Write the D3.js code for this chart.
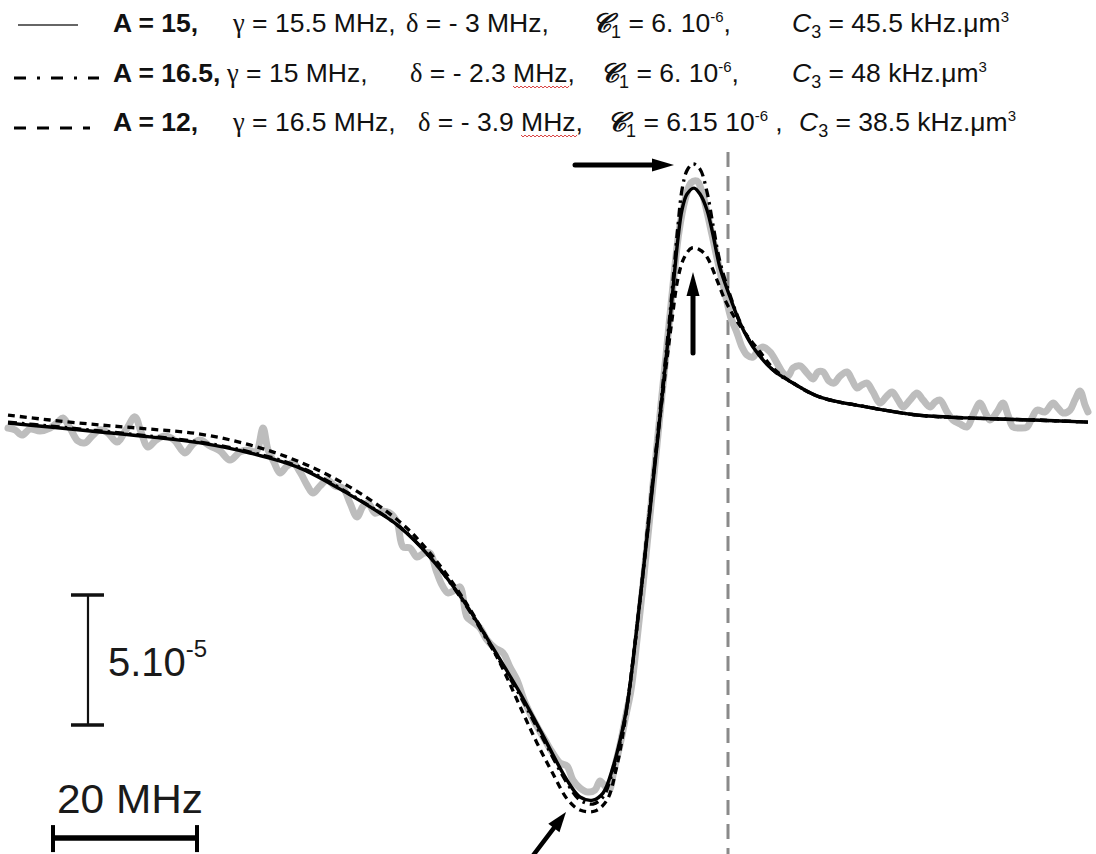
<!DOCTYPE html>
<html>
<head>
<meta charset="utf-8">
<script src="https://cdn.jsdelivr.net/npm/d3@7"></script>
<style>
  html, body { margin: 0; padding: 0; background: #fff; }
  svg { display: block; }
</style>
</head>
<body>
<svg id="chart" width="1096" height="854"></svg>
<script>
// ---------- measured absorption signal (detuning in MHz, signal in units of 1e-5) ----------
const measFreq = [
  -100.00, -99.03, -98.06, -96.94, -95.56, -94.17, -93.06, -92.36, -91.39, -90.28,
  -89.31, -88.33, -87.22, -86.11, -84.86, -83.61, -82.36, -81.53, -80.56, -79.44,
  -78.19, -76.94, -75.42, -74.31, -73.33, -71.94, -70.56, -69.17, -67.78, -66.67,
  -65.56, -64.58, -63.89, -63.06, -62.22, -61.25, -60.42, -59.44, -58.47, -57.64,
  -56.67, -55.69, -54.58, -53.47, -52.50, -51.53, -50.69, -50.00, -49.03, -48.06,
  -46.94, -45.97, -45.14, -44.17, -43.19, -42.22, -41.39, -40.56, -39.72, -38.89,
  -37.92, -37.22, -36.25, -35.42, -34.44, -33.47, -32.36, -31.25, -30.28, -29.31,
  -28.33, -27.36, -26.39, -25.42, -24.44, -23.33, -22.36, -21.53, -20.56, -19.44,
  -18.47, -17.78, -17.22, -16.53, -15.83, -15.00, -14.17, -13.47, -12.64, -11.81,
  -10.97, -10.14, -9.31, -8.47, -7.64, -6.81, -5.97, -5.14, -4.31, -3.61,
  -2.92, -2.22, -1.53, -0.83, -0.14, 0.42, 1.25, 1.94, 2.64, 3.47,
  4.17, 4.86, 5.83, 6.81, 7.64, 8.33, 9.03, 10.00, 10.97, 11.81,
  12.50, 13.19, 14.03, 14.72, 15.56, 16.53, 17.22, 17.92, 18.61, 19.31,
  20.14, 21.11, 21.94, 22.78, 23.61, 24.31, 25.28, 26.25, 27.08, 28.06,
  28.75, 29.44, 30.42, 31.25, 32.22, 33.19, 34.03, 35.00, 35.69, 36.39,
  37.36, 38.19, 38.89, 39.58, 40.56, 41.53, 42.22, 42.92, 44.03, 45.14,
  45.83, 46.53, 47.50, 48.19, 48.89, 49.58, 50.00
];
const measSignal = [
  -0.31, -0.38, -0.58, -0.35, -0.42, -0.31, -0.08, 0.08, -0.31, -0.81,
  -0.88, -0.62, -0.38, -0.50, -0.85, -0.38, 0.12, -0.46, -1.04, -0.77,
  -0.62, -0.77, -1.27, -0.92, -0.77, -1.00, -1.19, -1.54, -1.23, -1.15,
  -1.23, -0.31, -1.15, -1.62, -2.04, -1.77, -1.65, -2.00, -2.50, -2.81,
  -2.54, -2.31, -2.54, -2.62, -3.19, -3.73, -3.31, -3.19, -3.58, -3.50,
  -3.58, -3.92, -4.88, -4.92, -5.27, -5.12, -5.12, -5.77, -6.35, -6.65,
  -6.54, -6.42, -7.58, -7.77, -8.00, -8.46, -8.77, -8.96, -9.50, -10.00,
  -10.77, -11.35, -11.85, -12.31, -12.77, -13.19, -13.31, -13.85, -14.15, -14.31,
  -14.23, -13.88, -14.04, -14.23, -13.46, -12.50, -11.35, -10.38, -8.46, -6.35,
  -4.04, -1.73, 0.58, 2.88, 5.19, 7.23, 8.46, 9.12, 9.19, 8.77,
  8.00, 7.12, 6.23, 5.38, 4.54, 3.92, 3.35, 2.81, 2.50, 2.42,
  2.69, 2.81, 2.62, 2.19, 1.81, 1.69, 2.00, 2.08, 1.81, 1.58,
  1.85, 1.85, 1.50, 1.42, 1.69, 1.85, 1.54, 1.23, 1.35, 1.42,
  1.08, 0.65, 0.88, 1.08, 0.77, 0.50, 0.77, 1.04, 0.77, 0.50,
  0.69, 0.77, 0.31, 0.00, -0.15, -0.27, 0.19, 0.65, 0.31, 0.00,
  0.31, 0.65, 0.19, -0.27, -0.31, -0.27, 0.08, 0.38, 0.31, 0.65,
  0.46, 0.27, 0.38, 0.77, 1.12, 0.58, 0.31
];

// ---------- model curves ----------
// A = 15 (solid)
const fitFreqA15 = [
  -100, -94.17, -87.22, -80.28, -73.33, -66.39, -59.44, -52.5, -48.33, -45.56,
  -41.39, -36.81, -33.06, -28.89, -26.11, -22.36, -20.56, -18.75, -17.36, -15.97,
  -14.58, -13.89, -12.22, -10.83, -9.86, -9.03, -8.19, -7.5, -6.94, -6.39,
  -5.69, -4.72, -3.89, -2.92, -2.08, -1.11, 0.28, 1.67, 3.47, 6.25,
  9.03, 12.78, 19.31, 26.25, 33.19, 42.36, 50
];
const fitSignalA15 = [
  -0.12, -0.27, -0.46, -0.65, -0.88, -1.27, -1.85, -2.88, -3.58, -4.12,
  -5.27, -6.92, -8.58, -10.5, -11.92, -13.85, -14.5, -14.62, -14.35, -13.35,
  -11.81, -10.77, -6.92, -3.46, -0.96, 1.23, 3.46, 5.46, 7.0, 8.08,
  8.69, 8.92, 8.69, 8.08, 7.12, 5.85, 4.73, 3.73, 2.81, 1.92,
  1.42, 0.88, 0.5, 0.19, 0.08, 0, -0.08
];
// A = 16.5 (dash-dot)
const fitFreqA165 = [
  -100, -94.17, -87.22, -80.28, -73.33, -66.39, -59.44, -52.5, -45.56, -41.39,
  -36.81, -33.06, -28.89, -26.11, -22.36, -20.56, -18.75, -17.36, -15.97, -14.58,
  -13.89, -12.22, -10.83, -9.86, -9.03, -8.19, -7.5, -6.94, -6.39, -5.69,
  -4.86, -3.89, -2.92, -2.08, -1.11, 0.28, 1.67, 3.47, 6.25, 9.03,
  12.78, 19.31, 26.25, 33.19, 42.36, 50
];
const fitSignalA165 = [
  -0.08, -0.23, -0.42, -0.62, -0.85, -1.23, -1.81, -2.85, -4.12, -5.27,
  -6.96, -8.65, -10.6, -12.04, -13.96, -14.62, -14.77, -14.5, -13.46, -11.85,
  -10.77, -6.92, -3.38, -0.81, 1.42, 3.7, 5.77, 7.5, 8.85, 9.6,
  9.85, 9.65, 8.77, 7.5, 6.08, 4.81, 3.77, 2.85, 1.92, 1.42,
  0.88, 0.5, 0.19, 0.08, 0, -0.08
];
// A = 12 (dashed)
const fitFreqA12 = [
  -100, -94.17, -87.22, -80.28, -73.33, -66.39, -59.44, -52.5, -45.56, -41.39,
  -36.81, -32.08, -28.47, -26.53, -24.44, -22.22, -20.56, -18.47, -16.81, -15.56,
  -14.44, -12.22, -10.83, -9.86, -8.75, -7.78, -6.94, -6.11, -5.0, -3.89,
  -2.92, -1.53, -0.42, 0.97, 2.36, 4.44, 6.25, 9.03, 12.78, 19.31,
  26.25, 33.19, 42.36, 50
];
const fitSignalA12 = [
  0.19, 0, -0.19, -0.35, -0.54, -0.96, -1.62, -2.58, -3.92, -5.12,
  -6.85, -9.12, -11.27, -12.42, -13.54, -14.62, -15.0, -15.04, -14.62, -13.46,
  -11.81, -6.92, -3.27, -0.88, 1.73, 3.85, 5.46, 6.23, 6.62, 6.54,
  6.27, 5.38, 4.62, 3.92, 3.35, 2.62, 2.0, 1.42, 0.88, 0.5,
  0.19, 0.08, 0, -0.08
];

// ---------- legend parameters ----------
const paramA     = ["15", "16.5", "12"];
const paramGamma = ["15.5", "15", "16.5"];
const paramDelta = ["- 3", "- 2.3", "- 3.9"];
const paramC1    = ["6.", "6.", "6.15"];
const paramC1Exp = ["-6", "-6", "-6"];
const paramC3    = ["45.5", "48", "38.5"];

// scale-bar sizes
const scaleBarMHz = 20;
const scaleBarSignal = 5;      // in units of 1e-5
const scaleBarSignalExp = "-5";

// ---------- drawing ----------
const svg = d3.select("#chart");
const sans = "'Liberation Sans', Arial, Helvetica, sans-serif";
const serif = "'Liberation Serif', 'Times New Roman', serif";

const x = d3.scaleLinear().domain([-100, 50]).range([8, 1088]);
const y = d3.scaleLinear().domain([-16, 10]).range([836, 160]);

const line = d3.line()
  .x(d => x(d[0]))
  .y(d => y(d[1]))
  .curve(d3.curveCatmullRom.alpha(0.5));

const zip = (a, b) => a.map((v, i) => [v, b[i]]);

// resonance marker
svg.append("line")
  .attr("x1", x(0)).attr("x2", x(0))
  .attr("y1", 152).attr("y2", 854)
  .attr("stroke", "#8a8a8a").attr("stroke-width", 3)
  .attr("stroke-dasharray", "15,9");

// measured signal
svg.append("path")
  .attr("d", line(zip(measFreq, measSignal)))
  .attr("fill", "none").attr("stroke", "#bdbdbd")
  .attr("stroke-width", 7).attr("stroke-linejoin", "round").attr("stroke-linecap", "round");

// model curves
svg.append("path")
  .attr("d", line(zip(fitFreqA12, fitSignalA12)))
  .attr("fill", "none").attr("stroke", "#000").attr("stroke-width", 3.3)
  .attr("stroke-dasharray", "7,5");
svg.append("path")
  .attr("d", line(zip(fitFreqA165, fitSignalA165)))
  .attr("fill", "none").attr("stroke", "#000").attr("stroke-width", 3.3)
  .attr("stroke-dasharray", "9,5,2.5,5");
svg.append("path")
  .attr("d", line(zip(fitFreqA15, fitSignalA15)))
  .attr("fill", "none").attr("stroke", "#000").attr("stroke-width", 3.4);

// arrows
function arrow(p0, p1, headLen, headHalf, w) {
  const x0 = x(p0[0]), y0 = y(p0[1]), x1 = x(p1[0]), y1 = y(p1[1]);
  const dx = x1 - x0, dy = y1 - y0, L = Math.hypot(dx, dy);
  const ux = dx / L, uy = dy / L;
  const bx = x1 - ux * headLen, by = y1 - uy * headLen;
  svg.append("line")
    .attr("x1", x0).attr("y1", y0).attr("x2", bx + ux * 2).attr("y2", by + uy * 2)
    .attr("stroke", "#000").attr("stroke-width", w).attr("stroke-linecap", "round");
  svg.append("path")
    .attr("d", `M${x1},${y1}L${bx - uy * headHalf},${by + ux * headHalf}L${bx + uy * headHalf},${by - ux * headHalf}Z`)
    .attr("fill", "#000");
}
arrow([-21.25, 9.81], [-7.5, 9.81], 22, 6.5, 5);
arrow([-4.86, 2.58], [-4.86, 5.69], 24, 6.5, 5);
arrow([-27.22, -16.8], [-22.5, -15.08], 20, 7, 4.5);

// scale bars
const vBarF = -88.89, vBarTop = -6.73;
const vx = x(vBarF), vy0 = y(vBarTop), vy1 = y(vBarTop - scaleBarSignal);
svg.append("line").attr("x1", vx).attr("x2", vx).attr("y1", vy0).attr("y2", vy1)
  .attr("stroke", "#111").attr("stroke-width", 2.2);
[vy0, vy1].forEach(yy => svg.append("line")
  .attr("x1", vx - 17).attr("x2", vx + 16).attr("y1", yy).attr("y2", yy)
  .attr("stroke", "#111").attr("stroke-width", 3.6));
const vLabel = svg.append("text").attr("x", vx + 20).attr("y", (vy0 + vy1) / 2 + 16)
  .attr("font-family", sans).attr("font-size", 40).attr("fill", "#1a1a1a");
vLabel.append("tspan").text("5.10");
vLabel.append("tspan").attr("font-size", 24).attr("dy", -19).text(scaleBarSignalExp);

const hBarF = -93.75, hBarV = -16.08;
const hx0 = x(hBarF), hx1 = x(hBarF + scaleBarMHz), hy = y(hBarV);
svg.append("line").attr("x1", hx0).attr("x2", hx1).attr("y1", hy).attr("y2", hy)
  .attr("stroke", "#000").attr("stroke-width", 5.5);
[hx0, hx1].forEach(xx => svg.append("line")
  .attr("x1", xx).attr("x2", xx).attr("y1", hy - 13).attr("y2", hy + 14)
  .attr("stroke", "#000").attr("stroke-width", 4));
svg.append("text").attr("x", hx0 + 4).attr("y", hy - 25)
  .attr("font-family", sans).attr("font-size", 40).attr("fill", "#1a1a1a")
  .attr("textLength", hx1 - hx0 + 2).attr("lengthAdjust", "spacingAndGlyphs")
  .text(`${scaleBarMHz} MHz`);

// legend
const rowY = [32, 82, 131];
const gammaX = [233, 227, 233];
const deltaX = [406, 410, 418];
const c1X = [592, 600, 607];
const c3X = [792, 792, 799];
const fs = 26.5;

// legend line samples
svg.append("line").attr("x1", 18).attr("x2", 78).attr("y1", 25).attr("y2", 25)
  .attr("stroke", "#333").attr("stroke-width", 1.5);
svg.append("line").attr("x1", 14).attr("x2", 99).attr("y1", 78).attr("y2", 78)
  .attr("stroke", "#000").attr("stroke-width", 3).attr("stroke-dasharray", "12,11,3,11");
svg.append("line").attr("x1", 14).attr("x2", 90).attr("y1", 128).attr("y2", 128)
  .attr("stroke", "#000").attr("stroke-width", 3).attr("stroke-dasharray", "12,11");

const legend = svg.append("g").attr("font-family", sans).attr("font-size", fs).attr("fill", "#111");

function wavy(x0, x1, yy) {
  let d = `M${x0},${yy}`;
  for (let xx = x0, k = 0; xx < x1; xx += 2, k++) d += `L${xx + 2},${yy + (k % 2 ? 0 : 2)}`;
  legend.append("path").attr("d", d).attr("fill", "none").attr("stroke", "#d83a3a").attr("stroke-width", 1);
}

paramA.forEach((a, i) => {
  const yy = rowY[i];
  legend.append("text").attr("x", 113).attr("y", yy).attr("font-weight", "bold").text(`A = ${a},`);

  const tg = legend.append("text").attr("x", gammaX[i]).attr("y", yy);
  tg.append("tspan").attr("font-family", serif).text("γ");
  tg.append("tspan").text(` = ${paramGamma[i]} MHz,`);

  const td = legend.append("text").attr("x", deltaX[i]).attr("y", yy);
  td.append("tspan").attr("font-family", serif).text("δ");
  td.append("tspan").text(` = ${paramDelta[i]} MHz,`);
  if (i > 0) {
    const s = td.text();
    const k = s.indexOf("MHz");
    const n = td.node();
    const xs = n.getStartPositionOfChar(k).x;
    const xe = n.getEndPositionOfChar(k + 2).x;
    wavy(xs, xe, yy + 4);
  }

  const tc = legend.append("text").attr("x", c1X[i]).attr("y", yy);
  tc.append("tspan").attr("font-family", serif).attr("font-style", "italic").attr("font-weight", "bold").text("𝒞");
  tc.append("tspan").attr("font-size", 18).attr("dy", 6).text("1");
  tc.append("tspan").attr("dy", -6).text(` = ${paramC1[i]} 10`);
  tc.append("tspan").attr("font-size", 15).attr("dy", -10).text(paramC1Exp[i]);
  tc.append("tspan").attr("dy", 10).text(i === 2 ? " ," : ",");

  const t3 = legend.append("text").attr("x", c3X[i]).attr("y", yy);
  t3.append("tspan").attr("font-style", "italic").text("C");
  t3.append("tspan").attr("font-size", 18).attr("dy", 6).text("3");
  t3.append("tspan").attr("dy", -6).text(` = ${paramC3[i]} kHz.μm`);
  t3.append("tspan").attr("font-size", 15).attr("dy", -10).text("3");
});
</script>
</body>
</html>
